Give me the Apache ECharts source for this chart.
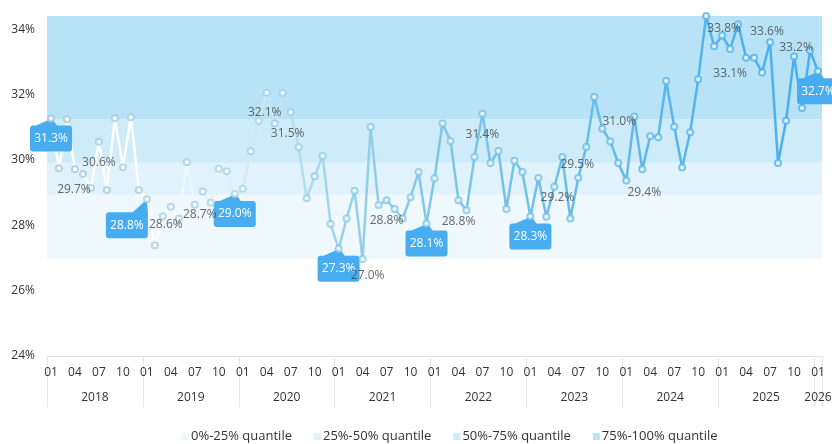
<!DOCTYPE html>
<html>
<head>
<meta charset="utf-8">
<script src="https://cdn.jsdelivr.net/npm/echarts@6/dist/echarts.min.js"></script>
<style>
html, body { margin: 0; padding: 0; background: #fff; }
#main { width: 832px; height: 444px; }
</style>
</head>
<body>
<div id="main"></div>
<script>
// monthly categories 2018-01 .. 2026-01
let years = ['2018', '2019', '2020', '2021', '2022', '2023', '2024', '2025', '2026'];
let monthNames = ['01', '02', '03', '04', '05', '06', '07', '08', '09', '10', '11', '12'];
let months = [];
years.forEach(function (y) {
	monthNames.forEach(function (m) {
		if (y === '2026' && m !== '01') return;
		months.push(y + '-' + m);
	});
});

// values (%)
let values = [
	31.27, 29.75, 31.25, 29.72, 29.57, 29.14, 30.56, 29.08, 31.28, 29.78, 31.31, 29.08,
	28.80, 27.39, 28.28, 28.57, 28.20, 29.93, 28.63, 29.04, 28.69, 29.73, 29.66, 28.96,
	29.12, 30.27, 31.20, 32.06, 31.12, 32.05, 31.46, 30.40, 28.83, 29.50, 30.12, 28.04,
	27.28, 28.21, 29.06, 26.97, 31.01, 28.62, 28.77, 28.50, 28.21, 28.86, 29.63, 28.06,
	29.44, 31.12, 30.58, 28.77, 28.46, 30.09, 31.42, 29.91, 30.28, 28.50, 29.98, 29.63,
	28.27, 29.45, 28.26, 29.18, 30.09, 28.21, 29.46, 30.40, 31.93, 30.96, 30.57, 29.91,
	29.37, 31.33, 29.72, 30.73, 30.70, 32.42, 31.02, 29.77, 30.85, 32.47, 34.41, 33.48,
	33.81, 33.40, 34.16, 33.13, 33.13, 32.68, 33.61, 29.91, 31.20, 33.17, 31.59, 33.35,
	32.72
];

// quantile bands
let quantileNames = ['0%-25% quantile', '25%-50% quantile', '50%-75% quantile', '75%-100% quantile'];
let quantileBounds = [26.96, 28.94, 29.92, 31.25, 34.41];

// points with a plain label / with a blue callout
let labelIdx = [3, 6, 15, 20, 27, 30, 39, 42, 51, 54, 63, 66, 69, 72, 84, 87, 90, 93];
let calloutIdx = [0, 12, 23, 36, 47, 60, 96];

// label placement relative to its point
let labelOffset = {
	3: [-1, 20], 6: [0, 21], 15: [-5, 18], 20: [-11, 12], 27: [-2, 20], 30: [-3, 21],
	39: [5, 17], 42: [0, 20], 51: [0, 21], 54: [0, 21], 63: [3, 11], 66: [-1, -13],
	69: [17, -7], 72: [18, 12], 84: [2, -7], 87: [-16, 16], 90: [-3, -11], 93: [2, -9]
};
let bandColors = ['#eef8fd', '#e0f2fb', '#cdebf8', '#b8e3f6'];

function pct(v) {
	return v.toFixed(1) + '%';
}

let myChart = echarts.init(document.getElementById('main'));

let scatterData = values.map(function (v, i) {
	let item = { value: [i, v] };
	if (labelIdx.indexOf(i) >= 0) {
		item.label = {
			show: true,
			position: 'inside',
			offset: labelOffset[i],
			color: '#444',
			fontSize: 12,
			formatter: pct(v)
		};
	}
	return item;
});

// callout bubbles: tip on top, box below
let bubble = 'path://M22,0L27,7L39,7Q42,7,42,10L42,30Q42,33,39,33L3,33Q0,33,0,30L0,10Q0,7,3,7L6,7Z';
let bubbleLeft = 'path://M41,0L42,13L42,36Q42,39,39,39L3,39Q0,39,0,36L0,16Q0,13,3,13L27,13Z';

let calloutData = calloutIdx.map(function (i) {
	let d = { coord: [i, values[i]], value: values[i] };
	if (i === 12) {
		d.symbol = bubbleLeft;
		d.symbolSize = [42, 39];
		d.symbolOffset = [-20, 19.5];
		d.label = { offset: [0, 6.5] };
	}
	return d;
});

let bandSeries = quantileNames.map(function (name, k) {
	return {
		name: name,
		type: 'line',
		data: [],
		itemStyle: { color: bandColors[k] },
		lineStyle: { color: bandColors[k] },
		markArea: {
			silent: true,
			itemStyle: { color: bandColors[k], opacity: 1 },
			data: [[{ yAxis: quantileBounds[k] }, { yAxis: quantileBounds[k + 1] }]]
		},
		z: 1
	};
});

let option = {
	animation: false,
	textStyle: { fontFamily: 'Open Sans' },
	grid: { left: 47, right: 10, top: 16, bottom: 88, outerBoundsMode: 'none' },
	legend: {
		data: quantileNames,
		top: 425,
		left: 177,
		icon: 'rect',
		itemWidth: 7,
		itemHeight: 7,
		itemGap: 22,
		textStyle: { color: '#333', fontSize: 13, padding: [0, 0, 0, -3] }
	},
	visualMap: [{
		show: false,
		type: 'continuous',
		seriesIndex: 4,
		dimension: 0,
		min: 0,
		max: 96,
		inRange: { color: ['#ffffff', '#ffffff', '#d6edf7', '#9ad2ea', '#80c6e5', '#72c0e8', '#60b9eb', '#52b2ee', '#4aaeef'] }
	}, {
		show: false,
		type: 'continuous',
		seriesIndex: 5,
		dimension: 0,
		min: 0,
		max: 96,
		inRange: { color: ['#a6c6d4', '#a8cfdf', '#a6d4e8', '#8ccbe6', '#80c6e5', '#72c0e8', '#60b9eb', '#52b2ee', '#4aaeef'] }
	}],
	xAxis: [{
		type: 'category',
		data: months,
		boundaryGap: true,
		axisLine: { lineStyle: { color: '#e3e3e3' } },
		axisTick: { show: false },
		axisLabel: {
			interval: function (i) { return i % 3 === 0; },
			formatter: function (v) { return v.slice(5); },
			color: '#333',
			fontSize: 12,
			margin: 11
		}
	}, {
		type: 'category',
		data: months,
		position: 'bottom',
		boundaryGap: true,
		axisLine: { show: false },
		axisTick: {
			show: true,
			interval: function (i) { return i % 12 === 0; },
			length: 51,
			lineStyle: { color: '#e6e6e6' }
		},
		axisLabel: {
			interval: function (i) { return i % 12 === 6 || i === months.length - 1; },
			formatter: function (v) {
				return v.slice(5) === '01' ? '{b|' + v.slice(0, 4) + '}' : '{a|' + v.slice(0, 4) + '}';
			},
			rich: {
				a: { padding: [0, 8, 0, 0], color: '#333', fontSize: 12 },
				b: { color: '#333', fontSize: 12 }
			},
			margin: 36
		}
	}],
	yAxis: {
		type: 'value',
		min: 24,
		max: 34.41,
		interval: 2,
		axisLine: { show: false },
		axisTick: { show: false },
		splitLine: { show: false },
		axisLabel: {
			formatter: '{value}%',
			showMaxLabel: false,
			color: '#333',
			fontSize: 12,
			margin: 12
		}
	},
	series: bandSeries.concat([{
		name: 'value',
		type: 'line',
		data: values.map(function (v, i) { return [i, v]; }),
		symbol: 'none',
		lineStyle: { width: 2.5 },
		z: 3
	}, {
		name: 'points',
		type: 'scatter',
		data: scatterData,
		symbol: 'emptyCircle',
		symbolSize: 6,
		itemStyle: { borderWidth: 1.5 },
		z: 4,
		markPoint: {
			symbol: bubble,
			symbolSize: [42, 33],
			symbolOffset: [0, 16.5],
			itemStyle: { color: '#47adf0' },
			label: {
				show: true,
				position: 'inside',
				offset: [0, 3.5],
				color: '#fff',
				fontSize: 12,
				formatter: function (p) { return pct(p.value); }
			},
			data: calloutData,
			z: 3.5
		}
	}])
};

myChart.setOption(option);
</script>
</body>
</html>
